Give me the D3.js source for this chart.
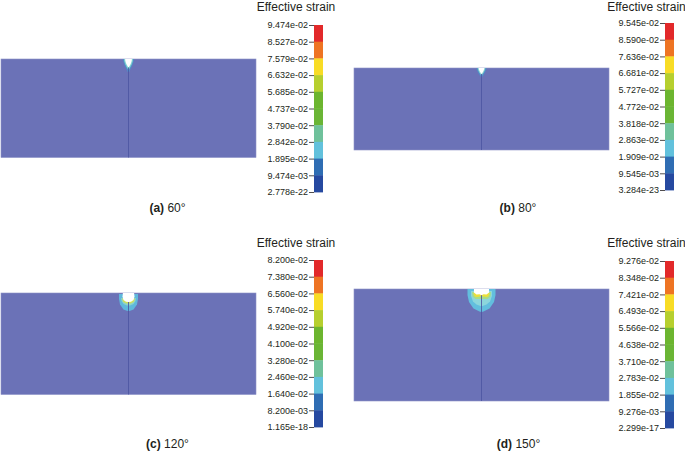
<!DOCTYPE html>
<html>
<head>
<meta charset="utf-8">
<script src="https://cdn.jsdelivr.net/npm/d3@7"></script>
<style>
  html, body { margin: 0; background: #fff; }
  text { font-family: "Liberation Sans", Arial, sans-serif; fill: #231f20; }
</style>
</head>
<body>
<div id="chart"></div>
<script>
// Tick labels of each colour bar, top to bottom
const ticksA = ["9.474e-02", "8.527e-02", "7.579e-02", "6.632e-02", "5.685e-02", "4.737e-02", "3.790e-02", "2.842e-02", "1.895e-02", "9.474e-03", "2.778e-22"];
const ticksB = ["9.545e-02", "8.590e-02", "7.636e-02", "6.681e-02", "5.727e-02", "4.772e-02", "3.818e-02", "2.863e-02", "1.909e-02", "9.545e-03", "3.284e-23"];
const ticksC = ["8.200e-02", "7.380e-02", "6.560e-02", "5.740e-02", "4.920e-02", "4.100e-02", "3.280e-02", "2.460e-02", "1.640e-02", "8.200e-03", "1.165e-18"];
const ticksD = ["9.276e-02", "8.348e-02", "7.421e-02", "6.493e-02", "5.566e-02", "4.638e-02", "3.710e-02", "2.783e-02", "1.855e-02", "9.276e-03", "2.299e-17"];

// One colour per band of the bar, top band first
const bandColors = ["#e2292a", "#ee7423", "#f8dc25", "#b6cf2e", "#6cb52f", "#6ab535", "#6fc19b", "#62c1dc", "#2f6db3", "#2649a0"];

// Plume contours: [half width, depth], in plate units (px of the original figure)
const plumeA = [
  { color: "#4f8fc8", points: [[5.4, 0], [5.2, 2], [4, 6], [2, 10], [0.8, 13], [0, 13]] },
  { color: "#7fd0cf", points: [[4.6, 0], [4.4, 2], [3.2, 5.5], [1.4, 9], [0, 11]] },
  { color: "#ffffff", points: [[3.4, 0], [3.2, 2], [2.2, 5], [0.8, 7.5], [0, 8.5]] },
];
const plumeB = [
  { color: "#4f8fc8", points: [[5, 0], [4.6, 2], [3.2, 5], [1.4, 8], [0, 9.5]] },
  { color: "#8fd6cf", points: [[3.8, 0], [3.4, 2], [2.2, 4.5], [0.8, 6.6], [0, 7.6]] },
  { color: "#ffffff", points: [[2.8, 0], [2.4, 2], [1.4, 4], [0.4, 5.6], [0, 6]] },
];
const plumeC = [
  { color: "#5fb8dc", points: [[9.5, 1], [9.5, 6], [8.5, 11.5], [5, 16.5], [1, 18], [0, 18]] },
  { color: "#8ed4c8", points: [[7.4, 5], [7, 8], [5, 11], [1.5, 12.6], [0, 12.6]] },
  { color: "#cfe05c", points: [[6.4, 5.5], [5.4, 8.8], [2, 10.4], [0, 10.4]] },
  { color: "#ffffff", points: [[5.6, 0], [6, 3.5], [5, 7], [2.5, 8.8], [0, 9]] },
];
const plumeD = [
  { color: "#62bede", points: [[14, 0], [14, 6], [12.5, 13], [8, 19.5], [2, 22.5], [0, 23]] },
  { color: "#8cd6dc", points: [[10.5, 2], [10.5, 7], [8.5, 12.5], [5, 15.5], [1, 17], [0, 17]] },
  { color: "#a8dc88", points: [[9.5, 3], [9, 7.5], [6, 10], [2, 10], [0, 10]] },
  { color: "#ecdf3a", points: [[8.2, 4], [6.8, 7.4], [4.5, 8], [2, 7.4], [0, 7]] },
  { color: "#ffffff", points: [[7.5, 0], [7.6, 3.5], [5, 5.6], [2, 5.2], [0, 6.2]] },
];

const tickSets = [ticksA, ticksB, ticksC, ticksD];
const plumes = [plumeA, plumeB, plumeC, plumeD];
const captions = [["(a)", " 60°"], ["(b)", " 80°"], ["(c)", " 120°"], ["(d)", " 150°"]];

// Where each panel sits on the page
const panels = [
  { left: 1, right: 256, top: 59, bottom: 157.5, barX: 314, barTop: 25, barBottom: 192, titleX: 296, titleY: 11, captionX: 167.5, captionY: 212 },
  { left: 354, right: 609, top: 68, bottom: 150, barX: 665, barTop: 23, barBottom: 190, titleX: 646.5, titleY: 11, captionX: 518, captionY: 212 },
  { left: 1, right: 256, top: 293, bottom: 394.5, barX: 314, barTop: 260, barBottom: 427, titleX: 296, titleY: 247, captionX: 167.5, captionY: 448 },
  { left: 354, right: 609, top: 289, bottom: 401, barX: 665, barTop: 261, barBottom: 428, titleX: 646.5, titleY: 247, captionX: 518.5, captionY: 448 },
];

const svg = d3.select("#chart").append("svg").attr("width", 685).attr("height", 453).style("display", "block");

// The original is a soft raster, so the contours get a slight blur
svg.append("defs").append("filter").attr("id", "soft")
  .append("feGaussianBlur").attr("stdDeviation", 0.5);

panels.forEach((p, i) => {
  const g = svg.append("g");

  // Plate coordinates: 0 at the centre line, depth measured from the top face
  const x = d3.scaleLinear().domain([-127.5, 127.5]).range([p.left, p.right]);
  const y = d3.scaleLinear().domain([0, p.bottom - p.top]).range([p.top, p.bottom]);

  g.append("rect")
    .attr("x", x(-127.5)).attr("y", y(0))
    .attr("width", x(127.5) - x(-127.5)).attr("height", p.bottom - p.top)
    .attr("fill", "#6b72b7").attr("stroke", "#8d92c6").attr("stroke-width", 0.6);

  // The crack line starts under the white notch
  const notch = plumes[i][plumes[i].length - 1].points;
  const plumeG = g.append("g").attr("filter", "url(#soft)");

  // Each contour is drawn mirrored about the centre line
  const outline = d3.line().x((d) => x(d[0])).y((d) => y(d[1])).curve(d3.curveLinear);
  plumes[i].forEach((layer) => {
    const mirrored = layer.points.slice().reverse().slice(1).map((d) => [-d[0], d[1]]);
    const closed = layer.points.concat(mirrored);
    plumeG.append("path").attr("d", outline(closed) + "Z").attr("fill", layer.color);
  });

  g.append("line")
    .attr("x1", x(0)).attr("x2", x(0))
    .attr("y1", y(d3.max(notch, (d) => d[1]))).attr("y2", p.bottom)
    .attr("stroke", "#4c56a2").attr("stroke-width", 1).attr("stroke-opacity", 0.85);

  // Colour bar: one band per interval between two tick labels
  const ticks = tickSets[i];
  const barScale = d3.scalePoint().domain(ticks).range([p.barTop, p.barBottom]);
  const step = barScale.step();

  g.selectAll(".band")
    .data(bandColors)
    .join("rect")
    .attr("class", "band")
    .attr("x", p.barX)
    .attr("y", (d, j) => barScale(ticks[j]))
    .attr("width", 9)
    .attr("height", step + 0.4)
    .attr("fill", (d) => d);

  const axis = d3.axisLeft(barScale).tickSize(5).tickPadding(1);
  const axisG = g.append("g").attr("transform", `translate(${p.barX},0)`).call(axis);
  axisG.select(".domain").remove();
  axisG.selectAll("line").attr("stroke", "#231f20").attr("stroke-width", 0.8);
  axisG.selectAll("text").attr("font-size", 9).attr("font-family", null).style("fill", "#231f20");

  g.append("text")
    .attr("x", p.titleX).attr("y", p.titleY)
    .attr("text-anchor", "middle").attr("font-size", 12)
    .text("Effective strain");

  const caption = g.append("text")
    .attr("x", p.captionX).attr("y", p.captionY)
    .attr("text-anchor", "middle").attr("font-size", 12);
  caption.append("tspan").attr("font-weight", "bold").text(captions[i][0]);
  caption.append("tspan").text(captions[i][1]);
});
</script>
</body>
</html>
